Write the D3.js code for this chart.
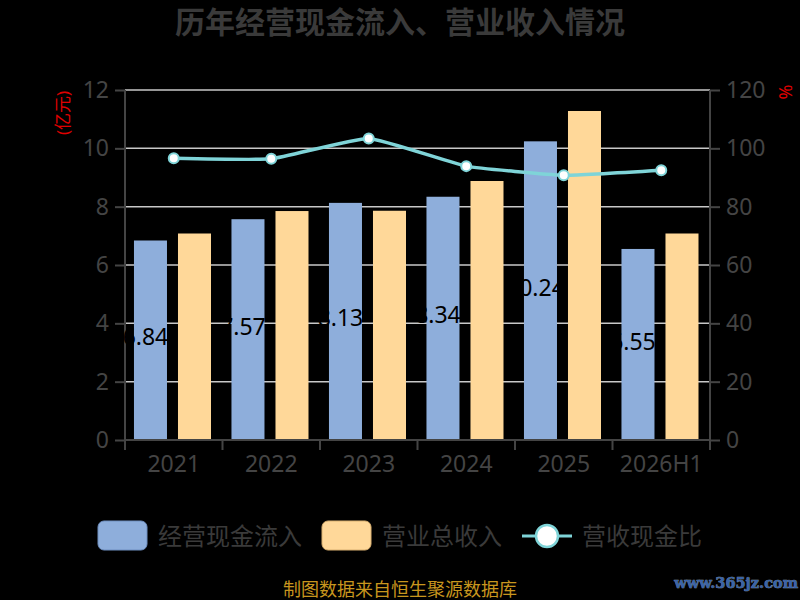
<!DOCTYPE html>
<html><head><meta charset="utf-8">
<script src="https://cdn.jsdelivr.net/npm/d3@7/dist/d3.min.js"></script>
<style>html,body{margin:0;padding:0;background:#000;}svg{display:block;}</style>
</head><body>
<svg id="c" width="800" height="600"></svg>
<script>
const categories = ["2021","2022","2023","2024","2025","2026H1"];
const cashInflow = [6.84, 7.57, 8.13, 8.34, 10.24, 6.55];
const revenue = [7.08, 7.85, 7.86, 8.88, 11.28, 7.08];
const ratio = [96.6, 96.4, 103.4, 93.9, 90.8, 92.5];
const leftTicks = [0,2,4,6,8,10,12];
const rightTicks = [0,20,40,60,80,100,120];
const seriesNames = ["经营现金流入","营业总收入","营收现金比"];

const svg = d3.select("#c");
const font = "'Noto Sans','Noto Sans CJK SC',sans-serif";
const L = 125, R = 710, T = 90, B = 440;
const x = d3.scaleBand().domain(categories).range([L, R]).paddingInner(0).paddingOuter(0);
const bw = x.bandwidth();
const x1 = d3.scaleBand().domain([0,1]).range([0.092*bw, 0.882*bw]).paddingInner(0.25);
const y = d3.scaleLinear().domain([0,12]).range([B, T]);
const y2 = d3.scaleLinear().domain([0,120]).range([B, T]);

// title
svg.append("text").attr("x", 400).attr("y", 33).attr("text-anchor","middle")
  .attr("font-family", font).attr("font-size", 30).attr("font-weight","bold")
  .attr("fill","#3a3a3a").text("历年经营现金流入、营业收入情况");

// grid
svg.append("g").selectAll("line").data(leftTicks.slice(1)).join("line")
  .attr("x1", L).attr("x2", R).attr("y1", d=>y(d)).attr("y2", d=>y(d))
  .attr("stroke","#c8c8c8").attr("stroke-width",1.5);

// bars
const colors = ["#8eaedb","#ffd899"];
const g = svg.append("g");
categories.forEach((c,i)=>{
  [cashInflow[i], revenue[i]].forEach((v,j)=>{
    g.append("rect").attr("x", x(c)+x1(j)).attr("width", x1.bandwidth())
     .attr("y", y(v)).attr("height", y(0)-y(v)).attr("fill", colors[j]);
  });
});

// axes
const axisColor = "#444";
const left = svg.append("g").attr("transform",`translate(${L},0)`)
  .call(d3.axisLeft(y).tickValues(leftTicks).tickSize(10).tickPadding(6).tickFormat(d3.format("d")));
const right = svg.append("g").attr("transform",`translate(${R},0)`)
  .call(d3.axisRight(y2).tickValues(rightTicks).tickSize(10).tickPadding(6).tickFormat(d3.format("d")));
const bottom = svg.append("g").attr("transform",`translate(0,${B})`)
  .call(d3.axisBottom(x).tickSize(0).tickPadding(16));
const bounds = categories.map(c=>x(c)).concat([R]);
svg.append("g").selectAll("line").data(bounds).join("line")
  .attr("x1",d=>d).attr("x2",d=>d).attr("y1",B).attr("y2",B+10)
  .attr("stroke",axisColor).attr("stroke-width",2);
[left,right,bottom].forEach(a=>{
  a.select(".domain").attr("stroke",axisColor).attr("stroke-width",2);
  a.selectAll(".tick line").attr("stroke",axisColor).attr("stroke-width",2);
  a.selectAll("text").attr("fill","#444").attr("font-family",font).attr("font-size",23);
});
left.select(".domain").attr("d",`M0,${B}V${T}`);
right.select(".domain").attr("d",`M0,${B}V${T}`);
bottom.select(".domain").attr("d",`M${L},0H${R}`);

// unit labels
svg.append("text").attr("transform","translate(69,113) rotate(-90)").attr("text-anchor","middle")
  .attr("font-family",font).attr("font-size",17).attr("fill","#e00000").text("(亿元)");
svg.append("text").attr("transform","translate(792,92) rotate(-90)").attr("text-anchor","middle")
  .attr("font-family",font).attr("font-size",18).attr("fill","#e00000").text("%");

// value labels (black, centered in blue bars)
categories.forEach((c,i)=>{
  const v = cashInflow[i];
  svg.append("text").attr("x", x(c)+x1(0)+x1.bandwidth()/2 - 5).attr("y",(y(v)+y(0))/2)
    .attr("dy","0.22em").attr("text-anchor","middle").attr("font-family",font)
    .attr("font-size",23).attr("fill","#000").text(d3.format(".2f")(v));
});

// ratio line
const line = d3.line().x((d,i)=>x(categories[i])+bw/2).y(d=>y2(d)).curve(d3.curveCardinal.tension(0.6));
svg.append("path").datum(ratio).attr("d",line).attr("fill","none")
  .attr("stroke","#7fd4d8").attr("stroke-width",3.5);
svg.append("g").selectAll("circle").data(ratio).join("circle")
  .attr("cx",(d,i)=>x(categories[i])+bw/2).attr("cy",d=>y2(d)).attr("r",5)
  .attr("fill","#fff").attr("stroke","#7fd4d8").attr("stroke-width",2);

// legend
const lg = svg.append("g");
const ly = 536;
lg.append("rect").attr("x",98).attr("y",ly-15).attr("width",49).attr("height",29).attr("rx",6)
  .attr("fill",colors[0]).attr("stroke","#6f8fc0").attr("stroke-width",1);
lg.append("text").attr("x",158).attr("y",ly).attr("dy","0.36em").attr("font-family",font)
  .attr("font-size",24).attr("fill","#3a3a3a").text(seriesNames[0]);
lg.append("rect").attr("x",322).attr("y",ly-15).attr("width",49).attr("height",29).attr("rx",6)
  .attr("fill",colors[1]).attr("stroke","#d9b070").attr("stroke-width",1);
lg.append("text").attr("x",382).attr("y",ly).attr("dy","0.36em").attr("font-family",font)
  .attr("font-size",24).attr("fill","#3a3a3a").text(seriesNames[1]);
lg.append("line").attr("x1",522).attr("x2",572).attr("y1",ly).attr("y2",ly)
  .attr("stroke","#7fd4d8").attr("stroke-width",3);
lg.append("circle").attr("cx",547).attr("cy",ly).attr("r",11)
  .attr("fill","#fff").attr("stroke","#7fd4d8").attr("stroke-width",2.5);
lg.append("text").attr("x",582).attr("y",ly).attr("dy","0.36em").attr("font-family",font)
  .attr("font-size",24).attr("fill","#3a3a3a").text(seriesNames[2]);

// footer
svg.append("text").attr("x",400).attr("y",590).attr("dy","0.35em").attr("text-anchor","middle")
  .attr("font-family",font).attr("font-size",18).attr("fill","#c8961e").text("制图数据来自恒生聚源数据库");
svg.append("text").attr("x",798).attr("y",583).attr("dy","0.35em").attr("text-anchor","end")
  .attr("font-family","'DejaVu Serif',serif").attr("font-size",14.5).attr("font-weight","bold")
  .attr("fill","#3a64a8").attr("stroke","#8899aa").attr("stroke-width",0.6).attr("paint-order","stroke")
  .text("www.365jz.com");
</script>
</body></html>
